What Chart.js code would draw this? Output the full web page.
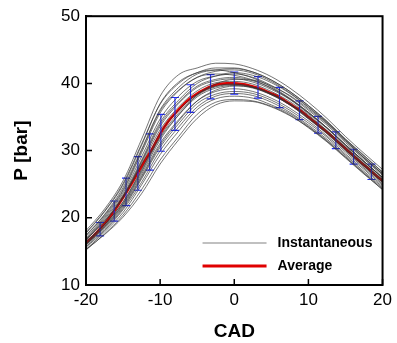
<!DOCTYPE html>
<html>
<head>
<meta charset="utf-8">
<script src="https://cdn.jsdelivr.net/npm/chart.js@4.4.0/dist/chart.umd.min.js"></script>
<style>
html, body { margin: 0; padding: 0; background: #fff; }
</style>
</head>
<body>
<canvas id="chart" width="397" height="343"></canvas>
<script>
// crank angle grid used for the single cycles
const cycleCad = [-20, -17.5, -15, -12.5, -10, -7.5, -5, -2.5, 0, 2.5, 5, 7.5, 10, 12.5, 15, 17.5, 20];

// instantaneous pressure traces (bar)
const cycles = [
  [18.1, 21.3, 25.5, 31.7, 38.1, 41.3, 42.3, 43.0, 42.9, 42.2, 41.0, 39.3, 37.2, 34.8, 32.1, 29.6, 27.2],
  [17.7, 20.9, 24.9, 30.8, 37.0, 40.2, 41.6, 42.3, 42.3, 41.7, 40.5, 38.8, 36.7, 34.3, 31.7, 29.2, 26.8],
  [17.4, 20.5, 24.5, 30.2, 36.1, 39.4, 41.4, 42.0, 42.2, 41.7, 40.5, 38.8, 36.7, 34.4, 31.7, 29.3, 26.8],
  [17.3, 20.4, 24.2, 30.0, 35.9, 39.0, 40.9, 41.4, 41.2, 40.5, 39.3, 37.7, 35.7, 33.4, 30.9, 28.4, 26.0],
  [16.8, 20.0, 23.7, 29.1, 34.7, 38.1, 40.3, 41.1, 41.4, 40.9, 39.7, 38.1, 36.0, 33.8, 31.2, 28.7, 26.3],
  [16.6, 19.8, 23.4, 28.6, 34.2, 37.5, 40.0, 41.1, 41.6, 41.2, 40.1, 38.5, 36.4, 34.1, 31.5, 28.9, 26.5],
  [16.7, 19.5, 23.1, 28.2, 33.6, 37.0, 39.4, 40.4, 40.7, 40.2, 39.1, 37.6, 35.5, 33.3, 30.7, 28.3, 25.9],
  [16.1, 19.3, 22.9, 27.9, 33.1, 36.5, 38.9, 40.1, 40.3, 39.9, 38.8, 37.3, 35.3, 33.0, 30.5, 28.1, 25.7],
  [16.5, 19.0, 22.4, 27.2, 32.6, 36.0, 38.4, 39.6, 39.9, 39.5, 38.5, 37.0, 35.1, 32.9, 30.4, 28.0, 25.6],
  [16.0, 18.8, 22.1, 26.8, 31.9, 35.3, 38.0, 39.3, 39.7, 39.3, 38.3, 36.8, 34.7, 32.5, 30.0, 27.6, 25.2],
  [15.9, 18.5, 21.6, 26.0, 30.8, 34.4, 37.4, 39.0, 39.6, 39.4, 38.4, 36.9, 34.9, 32.7, 30.2, 27.8, 25.4],
  [16.0, 18.6, 21.8, 26.2, 31.1, 34.6, 37.4, 38.8, 39.2, 38.8, 37.8, 36.3, 34.4, 32.2, 29.8, 27.4, 25.0],
  [15.7, 18.3, 21.4, 25.8, 30.5, 34.0, 37.0, 38.4, 38.8, 38.5, 37.5, 36.0, 34.1, 32.0, 29.5, 27.2, 24.8],
  [15.6, 18.1, 21.2, 25.3, 30.0, 33.5, 36.5, 38.1, 38.5, 38.2, 37.2, 35.7, 33.8, 31.7, 29.3, 26.9, 24.6],
  [15.3, 17.9, 20.8, 24.9, 29.4, 32.9, 36.1, 37.7, 38.1, 37.8, 36.8, 35.5, 33.6, 31.5, 29.1, 26.7, 24.4],
  [15.2, 17.6, 20.4, 24.2, 28.6, 32.1, 35.4, 37.2, 37.6, 37.4, 36.6, 35.3, 33.4, 31.3, 28.9, 26.5, 24.2],
  [15.3, 17.5, 20.1, 23.6, 28.0, 31.6, 34.8, 36.8, 37.4, 37.3, 36.5, 35.2, 33.5, 31.4, 29.0, 26.6, 24.2],
  [17.8, 21.0, 25.1, 31.0, 36.9, 40.0, 41.6, 42.0, 41.6, 40.8, 39.5, 37.8, 35.7, 33.4, 30.9, 28.4, 26.0],
  [16.2, 18.7, 22.0, 26.5, 31.6, 35.3, 38.3, 39.9, 40.6, 40.5, 39.6, 38.2, 36.2, 34.0, 31.4, 28.9, 26.5],
  [17.0, 20.2, 24.0, 29.7, 35.6, 38.9, 40.9, 41.8, 42.0, 41.5, 40.3, 38.6, 36.5, 34.2, 31.6, 29.0, 26.6],
  [16.4, 19.0, 22.3, 27.0, 32.1, 35.6, 38.2, 39.5, 39.8, 39.4, 38.3, 36.8, 34.8, 32.6, 30.1, 27.7, 25.3],
  [16.8, 19.6, 23.2, 28.4, 33.9, 37.2, 39.6, 40.6, 40.9, 40.4, 39.3, 37.7, 35.6, 33.4, 30.8, 28.4, 26.0]
];

// ensemble average
const avgCad = [-20, -19, -18, -17, -16, -15, -14, -13, -12, -11, -10, -9, -8, -7, -6, -5, -4, -3, -2, -1, 0,
                1, 2, 3, 4, 5, 6, 7, 8, 9, 10, 11, 12, 13, 14, 15, 16, 17, 18, 19, 20];
const avgP = [16.3, 17.3, 18.5, 19.8, 21.3, 23.0, 24.8, 26.7, 28.6, 30.4, 32.5, 34.2, 35.5, 36.7, 37.7, 38.5, 39.1, 39.6, 39.9, 40.0, 40.0,
              39.9, 39.7, 39.4, 39.0, 38.5, 38.0, 37.3, 36.6, 35.9, 35.0, 34.1, 33.2, 32.3, 31.3, 30.3, 29.3, 28.3, 27.4, 26.4, 25.5];

// error bars (+/- one std dev)
const barCad  = [-18.1, -16.2, -14.6, -13.0, -11.4, -9.9, -8.0, -5.9, -3.2, 0.0, 3.2, 6.1, 8.8, 11.3, 13.7, 16.1, 18.5];
const barLow  = [17.3, 19.5, 21.8, 24.1, 27.1, 29.9, 33.0, 35.7, 37.7, 38.4, 37.8, 36.4, 34.6, 32.6, 30.3, 28.0, 25.7];
const barHigh = [19.3, 22.5, 25.9, 29.1, 32.5, 35.4, 37.9, 39.8, 41.3, 41.7, 41.0, 39.4, 37.4, 35.1, 32.8, 30.2, 28.0];

const xTicks = [-20, -10, 0, 10, 20];
const yTicks = [10, 20, 30, 40, 50];

const FONT = "'Liberation Sans', Arial, sans-serif";

const datasets = [];
cycles.forEach(function (c, k) {
  datasets.push({
    label: k === 0 ? 'Instantaneous' : '',
    data: cycleCad.map(function (x, i) { return { x: x, y: c[i] }; }),
    borderColor: 'rgba(50,50,50,0.75)',
    borderWidth: 0.9,
    pointRadius: 0,
    cubicInterpolationMode: 'monotone',
    fill: false
  });
});
datasets.push({
  label: 'Average',
  data: avgCad.map(function (x, i) { return { x: x, y: avgP[i] }; }),
  borderColor: '#e00000',
  borderWidth: 2.6,
  pointRadius: 0,
  cubicInterpolationMode: 'monotone',
  fill: false
});

const errorBars = {
  id: 'errorBars',
  afterDatasetDraw(chart, args) {
    if (args.index !== cycles.length - 1) return;
    const ctx = chart.ctx, xs = chart.scales.x, ys = chart.scales.y;
    ctx.save();
    ctx.strokeStyle = '#1f2bff';
    ctx.lineWidth = 1.2;
    for (let i = 0; i < barCad.length; i++) {
      const px = xs.getPixelForValue(barCad[i]);
      const lo = ys.getPixelForValue(barLow[i]);
      const hi = ys.getPixelForValue(barHigh[i]);
      ctx.beginPath();
      ctx.moveTo(px, lo); ctx.lineTo(px, hi);
      ctx.moveTo(px - 4, lo); ctx.lineTo(px + 4, lo);
      ctx.moveTo(px - 4, hi); ctx.lineTo(px + 4, hi);
      ctx.stroke();
    }
    ctx.restore();
  }
};

const frameAndLegend = {
  id: 'frameAndLegend',
  afterDraw(chart) {
    const ctx = chart.ctx, a = chart.chartArea, xs = chart.scales.x, ys = chart.scales.y;
    ctx.save();
    // box
    ctx.strokeStyle = '#000';
    ctx.lineWidth = 2;
    ctx.strokeRect(a.left, a.top, a.right - a.left, a.bottom - a.top);
    // inward tick marks
    ctx.lineWidth = 1.5;
    ctx.beginPath();
    xTicks.forEach(function (t) {
      const px = xs.getPixelForValue(t);
      ctx.moveTo(px, a.bottom); ctx.lineTo(px, a.bottom - 6);
    });
    yTicks.forEach(function (t) {
      const py = ys.getPixelForValue(t);
      ctx.moveTo(a.left, py); ctx.lineTo(a.left + 6, py);
    });
    ctx.stroke();
    // legend
    const lx = a.right - 180, ly = a.bottom - 42;
    ctx.lineWidth = 2;
    ctx.strokeStyle = '#c0c0c0';
    ctx.beginPath(); ctx.moveTo(lx, ly); ctx.lineTo(lx + 64, ly); ctx.stroke();
    ctx.lineWidth = 3;
    ctx.strokeStyle = '#e00000';
    ctx.beginPath(); ctx.moveTo(lx, ly + 23); ctx.lineTo(lx + 64, ly + 23); ctx.stroke();
    ctx.fillStyle = '#000';
    ctx.font = 'bold 14px ' + FONT;
    ctx.textBaseline = 'middle';
    ctx.fillText(chart.data.datasets[0].label, lx + 75, ly);
    ctx.fillText(chart.data.datasets[cycles.length].label, lx + 75, ly + 23);
    ctx.restore();
  }
};

new Chart(document.getElementById('chart'), {
  type: 'line',
  data: { datasets: datasets },
  options: {
    responsive: false,
    animation: false,
    layout: { padding: { top: 16, right: 10, left: 0, bottom: 0 } },
    plugins: { legend: { display: false }, tooltip: { enabled: false } },
    scales: {
      x: {
        type: 'linear', min: -20, max: 20,
        afterBuildTicks: function (s) { s.ticks = xTicks.map(function (v) { return { value: v }; }); },
        afterFit: function (s) { s.height = 58; },
        ticks: { color: '#000', font: { family: FONT, size: 17 }, padding: 5, maxRotation: 0 },
        grid: { display: false, drawTicks: false },
        border: { display: true, color: '#000', width: 2 },
        title: { display: true, text: 'CAD', color: '#000', font: { family: FONT, size: 19, weight: 'bold' }, padding: { top: 0, bottom: 0 } }
      },
      y: {
        type: 'linear', min: 10, max: 50,
        afterBuildTicks: function (s) { s.ticks = yTicks.map(function (v) { return { value: v }; }); },
        afterFit: function (s) { s.width = 86; },
        ticks: { color: '#000', font: { family: FONT, size: 17 }, padding: 6 },
        grid: { display: false, drawTicks: false },
        border: { display: true, color: '#000', width: 2 },
        title: { display: true, text: 'P [bar]', color: '#000', font: { family: FONT, size: 19, weight: 'bold' }, padding: { top: 10, bottom: 0 } }
      }
    }
  },
  plugins: [errorBars, frameAndLegend]
});
</script>
</body>
</html>
